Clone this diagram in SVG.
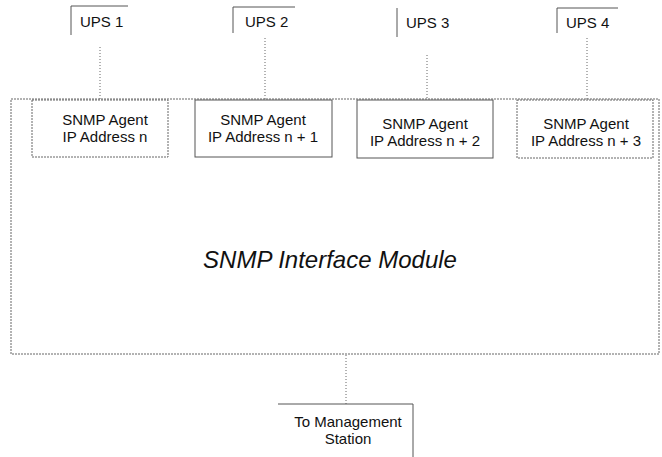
<svg xmlns="http://www.w3.org/2000/svg" width="662" height="457" viewBox="0 0 662 457">
<style>
text{font-family:"Liberation Sans",Arial,sans-serif;fill:#111}
.lbl{font-size:15px}
.box{fill:#fff;stroke:#555;stroke-width:1}
.dbox{fill:#fff;stroke:#666;stroke-width:1;stroke-dasharray:2 1}
.open{fill:none;stroke:#555;stroke-width:1}
.conn{fill:none;stroke:#666;stroke-width:1;stroke-dasharray:1 2}
</style>
<rect width="662" height="457" fill="#fff"/>
<g id="module">
<path class="dbox" d="M11,99 H659 V354 H11 Z"/>
<text x="330" y="268" text-anchor="middle" font-size="24" font-style="italic">SNMP Interface Module</text>
</g>
<g id="connectors">
<line class="conn" x1="100" y1="47" x2="100" y2="99"/>
<line class="conn" x1="265" y1="38" x2="265" y2="99"/>
<line class="conn" x1="427" y1="55" x2="427" y2="99"/>
<line class="conn" x1="587" y1="38" x2="587" y2="99"/>
<line class="conn" x1="346" y1="355" x2="346" y2="404"/>
</g>
<g id="ups1"><path class="open" d="M71,35 V6 H128"/><text class="lbl" x="80" y="27">UPS 1</text></g>
<g id="ups2"><path class="open" d="M233,33 V7 H295"/><text class="lbl" x="245" y="27">UPS 2</text></g>
<g id="ups3"><path class="open" d="M397,37 V8"/><text class="lbl" x="406" y="28">UPS 3</text></g>
<g id="ups4"><path class="open" d="M557,33 V8 H618"/><text class="lbl" x="566" y="28">UPS 4</text></g>
<g id="agent1"><rect class="dbox" x="32" y="100" width="136" height="57"/>
<text class="lbl" text-anchor="middle" x="105" y="125">SNMP Agent</text><text class="lbl" text-anchor="middle" x="105" y="142">IP Address n</text></g>
<g id="agent2"><rect class="box" x="195" y="100" width="137" height="57"/>
<text class="lbl" text-anchor="middle" x="263" y="125">SNMP Agent</text><text class="lbl" text-anchor="middle" x="263" y="142">IP Address n + 1</text></g>
<g id="agent3"><rect class="box" x="357" y="100" width="136" height="58"/>
<text class="lbl" text-anchor="middle" x="425" y="129">SNMP Agent</text><text class="lbl" text-anchor="middle" x="425" y="146">IP Address n + 2</text></g>
<g id="agent4"><rect class="dbox" x="517" y="100" width="136" height="58"/>
<text class="lbl" text-anchor="middle" x="586" y="129">SNMP Agent</text><text class="lbl" text-anchor="middle" x="586" y="146">IP Address n + 3</text></g>
<g id="mgmt"><path class="open" d="M278,404 H413 V457"/>
<text class="lbl" text-anchor="middle" x="348" y="427">To Management</text><text class="lbl" text-anchor="middle" x="348" y="444">Station</text></g>
</svg>
